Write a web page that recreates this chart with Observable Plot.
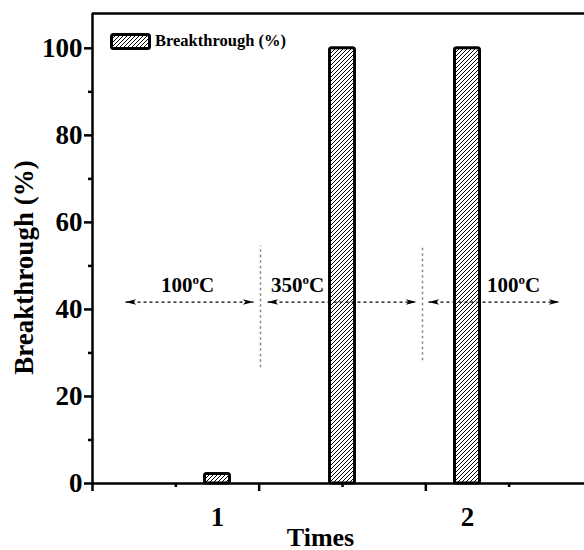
<!DOCTYPE html>
<html><head><meta charset="utf-8">
<script src="https://cdn.jsdelivr.net/npm/d3@7"></script>
<script src="https://cdn.jsdelivr.net/npm/@observablehq/plot@0.6"></script>
<style>
body{margin:0;background:#fff;}
#wrap{position:relative;width:584px;height:550px;}
#legend{position:absolute;left:110px;top:31px;display:flex;align-items:center;font:bold 16.5px "Liberation Serif",serif;}
#legend svg{margin-right:4px;}
</style></head><body><div id="wrap"><div id="legend"></div></div>
<script>
// ---- data ----
const runs = [1, 1.5, 2];
const breakthrough = [2.2, 100, 100];
const xTickValues = [1, 2];
const xTickLabels = ["1", "2"];
const yMajorTicks = [0, 20, 40, 60, 80, 100];
const yMinorTicks = [10, 30, 50, 70, 90];
const xMajorTicks = [0.5, 7/6, 11/6];
const xMinorTicks = [5/6, 1.5, 13/6];
const dividerX = [1.172, 1.82];
const dividerY1 = [26.6, 28.2];
const dividerY2 = [54.6, 54.6];
const spanX1 = [0.632, 1.2, 1.844];
const spanX2 = [1.144, 1.796, 2.368];
const spanY = [41.7, 41.7, 41.7];
const spanLabelX = [0.88, 1.32, 2.184];
const spanLabelY = [45.5, 45.5, 45.5];
const spanLabels = ["100°C", "350°C", "100°C"];
const legendLabel = "Breakthrough (%)";
const yLabel = "Breakthrough (%)";
const xLabel = "Times";

const bars = runs.map((r, i) => ({run: r, value: breakthrough[i]}));
const dividers = dividerX.map((x, i) => ({x, y1: dividerY1[i], y2: dividerY2[i]}));
const spans = spanX1.map((x1, i) => ({x1, x2: spanX2[i], y: spanY[i]}));
const heads = spans.flatMap(s => [{x: s.x1, y: s.y, rot: 180}, {x: s.x2, y: s.y, rot: 0}]);
const labels = spanLabels.map((t, i) => ({x: spanLabelX[i], y: spanLabelY[i], text: t}));
const halfW = 0.05;

const arrowHead = {draw(ctx, size) {
  const s = Math.sqrt(size);
  ctx.moveTo(0, 0); ctx.lineTo(-2 * s, -0.5 * s); ctx.lineTo(-1.5 * s, 0); ctx.lineTo(-2 * s, 0.5 * s); ctx.closePath();
}};

const font = '"Liberation Serif", "Times New Roman", serif';

const chart = Plot.plot({
  width: 584, height: 550,
  marginLeft: 92, marginRight: 0, marginTop: 13, marginBottom: 67,
  style: {fontFamily: font, fontWeight: "bold", background: "white", color: "black"},
  x: {domain: [0.5, 2.468]},
  y: {domain: [0, 108]},
  marks: [
    Plot.rect(bars, {x1: d => d.run - halfW, x2: d => d.run + halfW, y1: 0, y2: "value",
      fill: "url(#hatch)", stroke: "black", strokeWidth: 3, rx: 2}),
    Plot.ruleX(dividers, {x: "x", y1: "y1", y2: "y2", stroke: "#888", strokeWidth: 1.5, strokeDasharray: "2.5,3"}),
    Plot.link(spans, {x1: "x1", x2: "x2", y1: "y", y2: "y", stroke: "black", strokeWidth: 1.3, strokeDasharray: "3,3"}),
    Plot.dot(heads, {x: "x", y: "y", rotate: "rot", symbol: arrowHead, r: 3, fill: "black", stroke: null}),
    Plot.text(labels, {x: "x", y: "y", text: "text", fontSize: 21, fontWeight: "bold", fill: "black"}),
    Plot.ruleX([0.5], {strokeWidth: 2.5}),
    Plot.ruleY([0], {strokeWidth: 2.5}),
    Plot.ruleY([108], {strokeWidth: 2.5}),
    Plot.axisY(yMajorTicks, {tickSize: 8, strokeWidth: 2.5, tickPadding: 2, fontSize: 27, label: null}),
    Plot.axisY(yMinorTicks, {tickSize: 4, strokeWidth: 2.5, tickFormat: () => "", label: null}),
    Plot.axisX(xMajorTicks, {tickSize: 8, strokeWidth: 2.5, tickFormat: () => "", label: null}),
    Plot.axisX(xMinorTicks, {tickSize: 4, strokeWidth: 2.5, tickFormat: () => "", label: null}),
    Plot.axisX(xTickValues, {tickSize: 0, tickPadding: 23, fontSize: 27, tickFormat: (d, i) => xTickLabels[i], label: null}),
    Plot.text([xLabel], {frameAnchor: "bottom", dx: -18, dy: 62, fontSize: 26, fontWeight: "bold"}),
    Plot.text([yLabel], {frameAnchor: "left", textAnchor: "middle", rotate: -90, dx: -68, dy: 19, fontSize: 27, fontWeight: "bold"})
  ]
});

// hatch pattern
const ns = "http://www.w3.org/2000/svg";
const defs = document.createElementNS(ns, "defs");
defs.innerHTML = '<pattern id="hatch" patternUnits="userSpaceOnUse" width="4" height="4">' +
  '<rect width="4" height="4" fill="white"/>' +
  '<path d="M-1,1 l2,-2 M0,4 l4,-4 M3,5 l2,-2" stroke="black" stroke-width="1"/></pattern>';
chart.insertBefore(defs, chart.firstChild);

// superscript o in °C labels
chart.querySelectorAll("text").forEach(t => {
  if (t.textContent.includes("°C")) {
    const [num] = t.textContent.split("°");
    t.textContent = "";
    const a = document.createElementNS(ns, "tspan"); a.textContent = num;
    const b = document.createElementNS(ns, "tspan"); b.textContent = "o"; b.setAttribute("font-size", "13"); b.setAttribute("dy", "-8");
    const c = document.createElementNS(ns, "tspan"); c.textContent = "C"; c.setAttribute("dy", "8");
    t.append(a, b, c);
  }
});

document.getElementById("wrap").prepend(chart);

// legend
const lg = document.getElementById("legend");
lg.innerHTML = '<svg width="41" height="17"><defs><pattern id="hatchL" patternUnits="userSpaceOnUse" width="4" height="4">' +
  '<rect width="4" height="4" fill="white"/><path d="M-1,1 l2,-2 M0,4 l4,-4 M3,5 l2,-2" stroke="black" stroke-width="1"/></pattern></defs>' +
  '<rect x="1.5" y="1.5" width="38" height="14" rx="2" fill="url(#hatchL)" stroke="black" stroke-width="3"/></svg>';
const span = document.createElement("span"); span.textContent = legendLabel; lg.append(span);
</script>
</body></html>
